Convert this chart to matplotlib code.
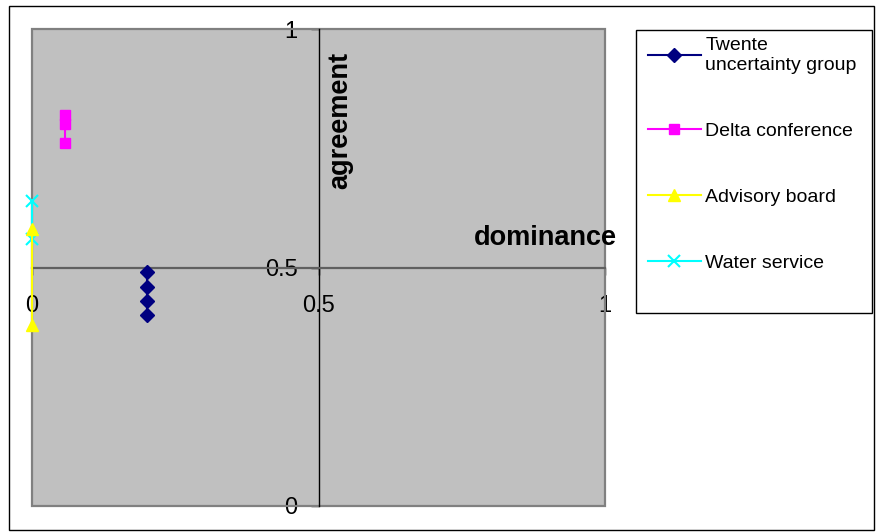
import matplotlib
matplotlib.use("Agg")
import matplotlib.pyplot as plt
from matplotlib.patches import Rectangle

plt.rcParams['font.family'] = ['Liberation Sans', 'DejaVu Sans']

# --------------------------------
# Data (dominance, agreement)
# --------------------------------
series_names = ["Twente\nuncertainty group", "Delta conference",
                "Advisory board", "Water service"]

twente_x = [0.2, 0.2, 0.2, 0.2]
twente_y = [0.49, 0.46, 0.43, 0.40]

delta_x = [0.058, 0.058, 0.058]
delta_y = [0.82, 0.80, 0.76]

advisory_x = [0.0, 0.0]
advisory_y = [0.58, 0.38]

water_x = [0.0, 0.0]
water_y = [0.64, 0.56]

ticks = [0, 0.5, 1]
tick_labels = ["0", "0.5", "1"]

W, H = 876, 532

fig = plt.figure(figsize=(8.76, 5.32), dpi=100)

# outer chart border
fig.patches.append(Rectangle((9 / W, 1 - 530 / H), 865 / W, 524 / H,
                             transform=fig.transFigure, fill=False,
                             edgecolor='black', linewidth=1))

ax = fig.add_axes([32 / W, 26 / H, 573 / W, 477 / H])
ax.set_facecolor('#C0C0C0')
ax.set_xlim(0, 1)
ax.set_ylim(0, 1)

# axes crossing in the middle
ax.spines['top'].set_visible(False)
ax.spines['right'].set_visible(False)
ax.spines['left'].set_position(('data', 0.5))
ax.spines['left'].set_color('black')
ax.spines['left'].set_linewidth(1)
ax.spines['bottom'].set_position(('data', 0.5))
ax.spines['bottom'].set_color('#606060')
ax.spines['bottom'].set_linewidth(1.6)

# plot area border
ax.add_patch(Rectangle((0, 0), 1, 1, transform=ax.transAxes, fill=False,
                       edgecolor='#808080', linewidth=1.6, clip_on=False,
                       zorder=2))

ax.set_xticks(ticks)
ax.set_xticklabels(tick_labels)
ax.set_yticks(ticks)
ax.set_yticklabels(tick_labels)
ax.tick_params(axis='x', direction='out', length=5, width=1, pad=15,
               labelsize=17, color='black')
ax.tick_params(axis='y', direction='out', length=6, width=1, pad=9,
               labelsize=17, color='black')

l1, = ax.plot(twente_x, twente_y, color='#000080', marker='D',
              markersize=7, linewidth=1.5, clip_on=False, zorder=3)
l2, = ax.plot(delta_x, delta_y, color='#FF00FF', marker='s',
              markersize=7.5, linewidth=1.5, clip_on=False, zorder=3)
l4, = ax.plot(water_x, water_y, color='#00FFFF', marker='x',
              markersize=8.5, markeredgewidth=1.5, linewidth=1.5,
              clip_on=False, zorder=3)
l3, = ax.plot(advisory_x, advisory_y, color='#FFFF00', marker='^',
              markersize=8.5, linewidth=1.5, clip_on=False, zorder=3)

# axis titles
fig.text(617 / W, 1 - 238 / H, "dominance", ha='right', va='center',
         fontsize=19.5, fontweight='bold')
fig.text(340 / W, 1 - 120 / H, "agreement", ha='center', va='center',
         rotation=90, fontsize=19.5, fontweight='bold')

# legend
fig.patches.append(Rectangle((636 / W, 1 - 313 / H), 236 / W, 283 / H,
                             transform=fig.transFigure, facecolor='white',
                             edgecolor='black', linewidth=1, zorder=1))
fig.legend([l1, l2, l3, l4], series_names, loc='upper left',
           bbox_to_anchor=(648 / W, 1 - 37 / H),
           bbox_transform=fig.transFigure, frameon=False, fontsize=14,
           handlelength=2.7, handletextpad=0.25, labelspacing=2.5,
           borderpad=0, borderaxespad=0)

plt.savefig("out.png", dpi=100)
